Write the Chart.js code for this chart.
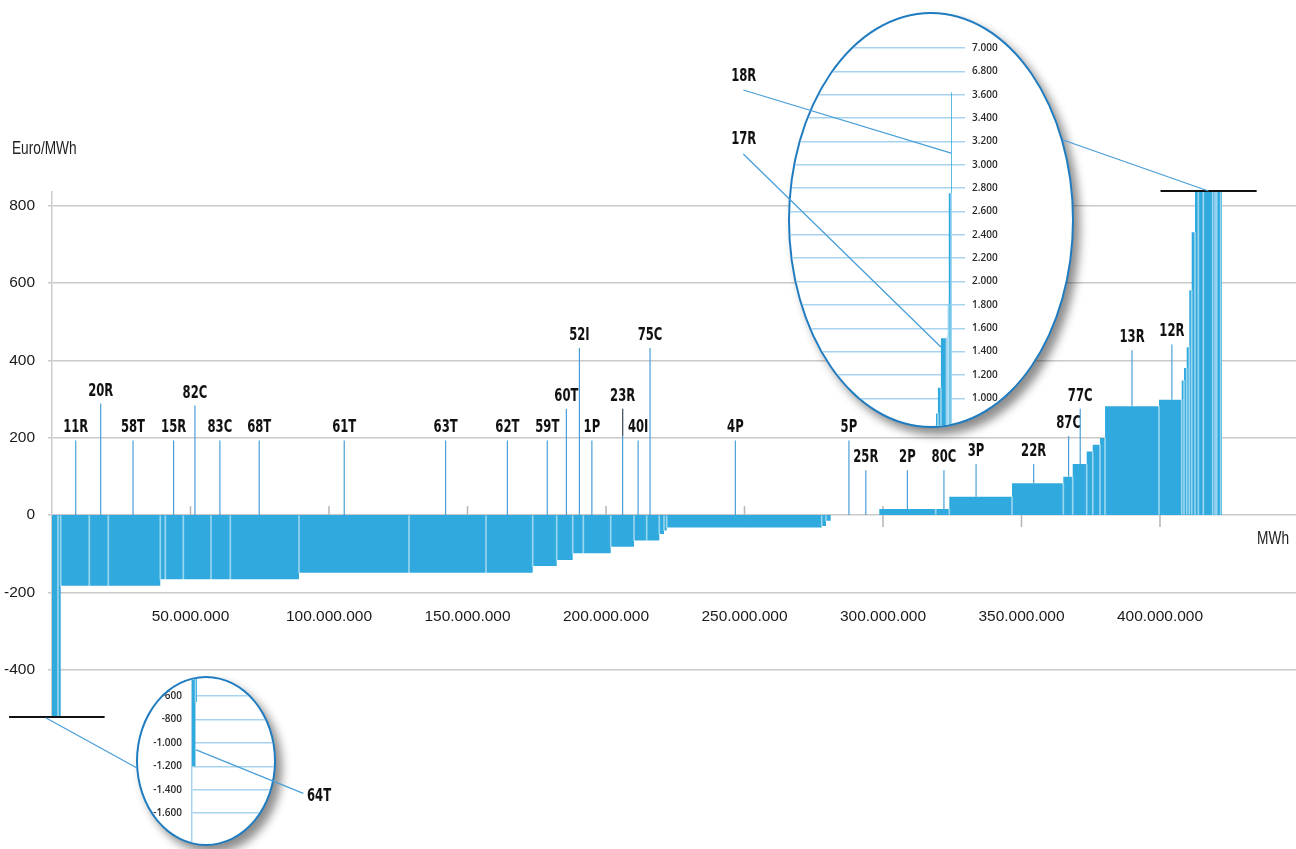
<!DOCTYPE html>
<html>
<head>
<meta charset="utf-8">
<script src="https://cdn.jsdelivr.net/npm/chart.js@4.4.1/dist/chart.umd.min.js"></script>
<style>
html, body { margin: 0; padding: 0; background: #fff; }
#wrap { position: relative; width: 1296px; height: 849px; overflow: hidden; }
#main { position: absolute; left: 0; top: 0; }
.lens { position: absolute; box-sizing: border-box; border: 2px solid #1f7cc0; border-radius: 50%;
        overflow: hidden; background: #fff; box-shadow: 6px 7px 10px rgba(0,0,0,0.45); }
.lens canvas { display: block; }
#lensTop { left: 788px; top: 12px; width: 286px; height: 416px; }
#lensBot { left: 136px; top: 676px; width: 140px; height: 170px; }
#overlay { position: absolute; left: 0; top: 0; pointer-events: none; }
</style>
</head>
<body>
<div id="wrap">
  <canvas id="main" width="1296" height="849"></canvas>
  <div class="lens" id="lensTop"><canvas id="topChart" width="282" height="412"></canvas></div>
  <div class="lens" id="lensBot"><canvas id="botChart" width="136" height="166"></canvas></div>
  <canvas id="overlay" width="1296" height="849"></canvas>
</div>
<script>
// merit order blocks: volume (million MWh) and bid price (Euro/MWh)
const blockVolume = [2.17, 0.97, 10.32, 6.86, 18.77, 1.81, 6.50, 10.00, 6.97, 24.80,
  39.71, 27.80, 16.86, 8.66, 5.78, 3.83, 9.89, 8.41, 4.58, 4.55,
  1.70, 0.97, 55.96, 1.55, 1.70, 17.55, 20.36, 4.91, 22.64, 18.52,
  3.39, 5.05, 2.17, 2.64, 1.81, 19.49, 8.19, 0.83, 0.97, 0.94,
  0.87, 1.19, 1.19, 1.81, 3.39, 0.83, 0.61, 1.44, 0.47];
const blockPrice = [-1200, -650, -183, -183, -183, -166, -166, -166, -166, -166,
  -149, -149, -149, -132, -116, -99, -99, -82, -66, -66,
  -49, -40, -32, -28, -15, 0, 15.5, 15.5, 47, 82,
  99, 132, 164, 182, 199, 281, 298, 348, 380, 434,
  581, 731, 870, 1090, 1514, 1520, 1808, 2757, 3621];

// plant labels: position (million MWh) and level where the leader starts (Euro/MWh)
const plantLabels = ['11R', '20R', '58T', '15R', '82C', '83C', '68T', '61T', '63T', '62T',
  '59T', '60T', '52I', '1P', '23R', '40I', '75C', '4P', '5P', '25R',
  '2P', '80C', '3P', '22R', '87C', '77C', '13R', '12R'];
const plantMWh = [8.56, 17.58, 29.24, 43.9, 51.6, 60.6, 74.8, 105.5, 142.1, 164.4,
  178.8, 185.7, 190.4, 194.9, 206.0, 211.6, 215.9, 246.7, 287.7, 293.8,
  308.8, 322.0, 333.6, 354.4, 367.0, 371.2, 389.9, 404.3];
const labelLevel = [193, 288, 193, 193, 283, 193, 193, 193, 193, 193,
  193, 275, 432, 193, 275, 193, 432, 193, 193, 116,
  116, 116, 132, 132, 204, 275, 426, 441];

// tick values
const xTickValues = [0, 50, 100, 150, 200, 250, 300, 350, 400];   // million MWh
const yTickValues = [-400, -200, 0, 200, 400, 600, 800];
const topLensTicks = [1000, 1200, 1400, 1600, 1800, 2000, 2200, 2400, 2600, 2800, 3000, 3200, 3400, 3600, 3800, 4000];
const botLensTicks = [-1600, -1400, -1200, -1000, -800, -600];

const BLUE = '#30aade';
const LEAD = '#4a9fd8';

function dotted(v) {
  const s = String(Math.round(Math.abs(v))).replace(/\B(?=(\d{3})+(?!\d))/g, '.');
  return (v < 0 ? '-' : '') + s;
}

function stepPoints() {
  const pts = [];
  let x = 0;
  blockVolume.forEach((v, i) => { pts.push({ x: x * 1e6, y: blockPrice[i] }); x += v; });
  pts.push({ x: x * 1e6, y: blockPrice[blockPrice.length - 1] });
  return pts;
}

function separatorPoints() {
  const sep = [];
  let x = 0;
  for (let i = 0; i < blockVolume.length - 1; i++) {
    x += blockVolume[i];
    const a = blockPrice[i], b = blockPrice[i + 1];
    if (a * b > 0) sep.push({ x: x * 1e6, y: Math.abs(a) < Math.abs(b) ? a : b });
  }
  return sep;
}

function priceAt(mwh) {
  let x = 0;
  for (let i = 0; i < blockVolume.length; i++) {
    x += blockVolume[i];
    if (mwh < x) return blockPrice[i];
  }
  return 0;
}

function datasets() {
  return [
    { type: 'bar', data: separatorPoints(), backgroundColor: 'rgba(255,255,255,0.5)',
      barThickness: 1, order: 1 },
    { type: 'line', data: stepPoints(), stepped: true, fill: 'origin', backgroundColor: BLUE,
      borderColor: 'rgba(0,0,0,0)', borderWidth: 0, pointRadius: 0, order: 2 }
  ];
}

function setTicks(values, scale) {
  scale.ticks = values.map(v => ({ value: v }));
}

function condensed(ctx, text, x, y, font, sx, align, color) {
  ctx.save();
  ctx.font = font;
  ctx.fillStyle = color || '#111';
  ctx.textAlign = align || 'center';
  ctx.textBaseline = 'alphabetic';
  ctx.translate(x, y);
  ctx.scale(sx, 1);
  ctx.fillText(text, 0, 0);
  ctx.restore();
}

const LABEL_FONT = "bold 17px 'DejaVu Sans Condensed', 'DejaVu Sans'";
const LABEL_SX = 0.76;
const TICK_FONT = { family: "'Liberation Sans', sans-serif", size: 15.5 };

const mainDecor = {
  id: 'mainDecor',
  beforeDatasetsDraw(chart) {
    const { ctx, scales: { x, y } } = chart;
    const y0 = y.getPixelForValue(0);
    ctx.save();
    ctx.strokeStyle = '#b5b5b5';
    ctx.lineWidth = 1.5;
    x.ticks.forEach(t => {
      if (t.value === 0) return;
      const px = x.getPixelForValue(t.value);
      ctx.beginPath();
      ctx.moveTo(px, y0 - 9);
      ctx.lineTo(px, y0 + 12);
      ctx.stroke();
    });
    ctx.restore();
  },
  afterDatasetsDraw(chart) {
    const { ctx, chartArea, scales: { x, y } } = chart;
    ctx.save();
    // plant leaders and labels
    ctx.lineWidth = 1.2;
    plantLabels.forEach((name, i) => {
      const px = x.getPixelForValue(plantMWh[i] * 1e6);
      const top = y.getPixelForValue(labelLevel[i]);
      const base = y.getPixelForValue(Math.max(0, priceAt(plantMWh[i])));
      ctx.strokeStyle = LEAD;
      ctx.beginPath();
      ctx.moveTo(px, top);
      ctx.lineTo(px, base);
      ctx.stroke();
      if (name === '23R') {
        // upper part of this leader is dark in the original
        ctx.strokeStyle = '#555';
        ctx.beginPath();
        ctx.moveTo(px, top);
        ctx.lineTo(px, y.getPixelForValue(205));
        ctx.stroke();
      }
      condensed(ctx, name, px, top - 8, LABEL_FONT, LABEL_SX, 'center');
    });
    // cut-off markers at the top and bottom of the plot
    ctx.strokeStyle = '#111';
    ctx.lineWidth = 2;
    ctx.beginPath();
    ctx.moveTo(x.getPixelForValue(400.2e6), chartArea.top - 1);
    ctx.lineTo(x.getPixelForValue(434.9e6), chartArea.top - 1);
    ctx.moveTo(x.getPixelForValue(-15.5e6), chartArea.bottom);
    ctx.lineTo(x.getPixelForValue(19.0e6), chartArea.bottom);
    ctx.stroke();
    // axis titles
    condensed(ctx, 'Euro/MWh', chartArea.left - 40, chartArea.top - 38, "19px 'Liberation Sans'", 0.72, 'left', '#222');
    condensed(ctx, 'MWh', chartArea.right - 7, y.getPixelForValue(0) + 29, "19px 'Liberation Sans'", 0.72, 'right', '#222');
    ctx.restore();
  }
};

const mainChart = new Chart(document.getElementById('main'), {
  type: 'line',
  data: { datasets: datasets() },
  plugins: [mainDecor],
  options: {
    responsive: false,
    animation: false,
    events: [],
    layout: { padding: { top: 192, bottom: 132, left: 0, right: 0 } },
    plugins: { legend: { display: false }, tooltip: { enabled: false } },
    scales: {
      x: {
        type: 'linear', position: { y: 0 }, offset: false,
        min: 0, max: 449.1e6,
        afterBuildTicks: s => setTicks(xTickValues.map(v => v * 1e6), s),
        afterFit: s => { s.paddingLeft = 0; s.paddingRight = 0; },
        grid: { display: false, drawTicks: false, offset: false },
        border: { display: false },
        ticks: { autoSkip: false, maxRotation: 0, padding: 92, color: '#1a1a1a', font: TICK_FONT,
          callback: v => v === 0 ? '' : dotted(v) }
      },
      y: {
        type: 'linear', min: -522, max: 835,
        afterBuildTicks: s => setTicks(yTickValues, s),
        afterFit: s => { s.width = 52; s.paddingTop = 0; s.paddingBottom = 0; },
        grid: { color: '#c9c9c9', lineWidth: 1.5, tickLength: 4 },
        border: { color: '#cccccc', width: 1.5 },
        ticks: { padding: 13, color: '#1a1a1a', font: TICK_FONT, callback: v => String(v) }
      }
    }
  }
});

function lensChart(id, o) {
  return new Chart(document.getElementById(id), {
    type: 'line',
    data: { datasets: datasets() },
    options: {
      responsive: false,
      animation: false,
      events: [],
      layout: { padding: 0 },
      plugins: { legend: { display: false }, tooltip: { enabled: false } },
      scales: {
        x: { type: 'linear', display: false, offset: false, min: o.xMin * 1e6, max: o.xMax * 1e6 },
        y: {
          type: 'linear', position: o.side, min: o.yMin, max: o.yMax,
          afterBuildTicks: s => setTicks(o.ticks, s),
          afterFit: s => { s.width = o.axisWidth; s.paddingTop = 0; s.paddingBottom = 0; },
          grid: { color: '#a8d3ef', lineWidth: 1.5, drawTicks: false },
          border: { display: o.border, color: '#a8d3ef', width: 1.5 },
          ticks: { padding: o.pad, color: '#2a2a2a',
            font: { family: "'Open Sans', sans-serif", size: 10, weight: '600' }, callback: o.fmt }
        }
      }
    }
  });
}

// upper lens: high-price tail, axis broken above 3.600 (3.800 -> 6.800, 4.000 -> 7.000)
const topChart = lensChart('topChart', {
  xMin: 323.2, xMax: 430.4, yMin: 763, yMax: 4292, side: 'right', axisWidth: 107, pad: 7,
  ticks: topLensTicks, border: false,
  fmt: v => dotted(v >= 3800 ? v + 3000 : v)
});

// lower lens: 64T
const botChart = lensChart('botChart', {
  xMin: 0, xMax: 51.3, yMin: -1863, yMax: -446, side: 'left', axisWidth: 54, pad: 10,
  ticks: botLensTicks, border: true,
  fmt: v => dotted(v)
});

// connectors and lens leaders
(function drawOverlay() {
  const ctx = document.getElementById('overlay').getContext('2d');
  const tx = topChart.scales.x, ty = topChart.scales.y;
  const bx = botChart.scales.x, by = botChart.scales.y;
  const topOff = { x: 790, y: 14 }, botOff = { x: 138, y: 678 };
  const mx = mainChart.scales.x, my = mainChart.scales.y;

  ctx.strokeStyle = LEAD;
  ctx.lineWidth = 1.3;
  ctx.beginPath();
  ctx.moveTo(mx.getPixelForValue(417.5e6), my.getPixelForValue(835) - 1);
  ctx.lineTo(1063, 140);
  ctx.moveTo(45.7, 717.7);
  ctx.lineTo(137, 768);
  ctx.stroke();

  let x18 = 0, x17 = 0, acc = 0;
  blockVolume.forEach((v, i) => {
    if (blockPrice[i] === 3621) x18 = acc;
    if (blockPrice[i] === 1514) x17 = acc;
    acc += v;
  });
  ctx.beginPath();
  ctx.moveTo(743.3, 90);
  ctx.lineTo(topOff.x + tx.getPixelForValue(x18 * 1e6), topOff.y + ty.getPixelForValue(3100));
  ctx.moveTo(743.3, 154);
  ctx.lineTo(topOff.x + tx.getPixelForValue(x17 * 1e6), topOff.y + ty.getPixelForValue(1440));
  ctx.moveTo(botOff.x + bx.getPixelForValue(2.6e6), botOff.y + by.getPixelForValue(-1060));
  ctx.lineTo(303.3, 793.3);
  ctx.stroke();

  condensed(ctx, '18R', 743.7, 81, LABEL_FONT, LABEL_SX, 'center');
  condensed(ctx, '17R', 743.7, 144, LABEL_FONT, LABEL_SX, 'center');
  condensed(ctx, '64T', 307, 801, LABEL_FONT, LABEL_SX, 'left');
})();
</script>
</body>
</html>
